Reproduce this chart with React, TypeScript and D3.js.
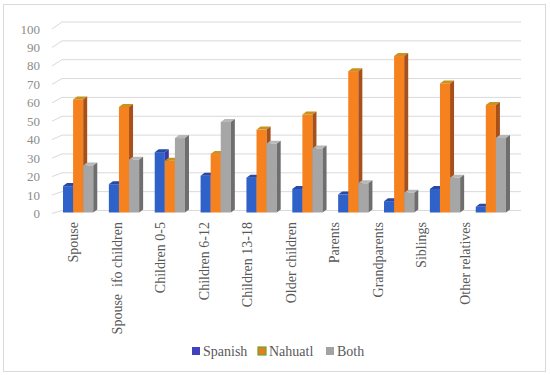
import React from "react";
import * as d3 from "d3";

const categories = [
  "Spouse",
  "Spouse  ifo children",
  "Children 0-5",
  "Children 6-12",
  "Children 13-18",
  "Older children",
  "Parents",
  "Grandparents",
  "Siblings",
  "Other relatives",
];
const seriesNames = ["Spanish", "Nahuatl", "Both"];
const spanish = [14, 15, 32, 19.5, 18.5, 12.5, 9.5, 6, 12.5, 3];
const nahuatl = [60, 56, 27.5, 31, 44, 52, 75, 83, 68.5, 57];
const both = [25, 28, 39.5, 48, 36.5, 34, 15.5, 10.5, 18.5, 39.5];
const yTicks = [0, 10, 20, 30, 40, 50, 60, 70, 80, 90, 100];

const seriesValues = [spanish, nahuatl, both];
const faceColors = [
  { front: "#2F62C8", top: "#2A48A8", side: "#3A3A9E" },
  { front: "#F5821F", top: "#C9931F", side: "#A8501A" },
  { front: "#A6A6A6", top: "#B8B8B8", side: "#6E6E6E" },
];
const legendColors = ["#4042BE", "#E2801E", "#A3A3A3"];

export default function App() {
  const W = 550;
  const H = 375;
  const yBack = d3.scaleLinear().domain([0, 100]).range([210.5, 22]);
  const yFront = d3.scaleLinear().domain([0, 100]).range([213.5, 29]);
  const x0 = d3.scaleBand<string>().domain(categories).range([63, 506]).paddingInner(0.34).paddingOuter(0);
  const x1 = d3.scaleBand<string>().domain(seriesNames).range([0, x0.bandwidth()]).padding(0);
  const xLabel = d3.scaleBand<string>().domain(categories).range([52, 487]);
  const dx = 4;
  const dy = 3;
  const font = "Liberation Serif, Tinos, Times New Roman, DejaVu Serif, serif";

  return (
    <svg width={W} height={H} style={{ position: "absolute", left: 0, top: 0 }} fontFamily={font}>
      <rect x={3.5} y={4.5} width={542} height={367} fill="#fff" stroke="#d9d9d9" />
      {yTicks.map((t) => (
        <g key={t}>
          <line x1={62} x2={521} y1={yBack(t)} y2={yBack(t)} stroke="#d9d9d9" strokeWidth={1} />
          <line x1={52} x2={62} y1={yFront(t)} y2={yBack(t)} stroke="#d9d9d9" strokeWidth={1} />
          <text x={40} y={yFront(t)} textAnchor="end" dominantBaseline="central" fontFamily={font} fontSize={13} fill="#8c8c8c">
            {t}
          </text>
        </g>
      ))}
      {categories.map((c, i) => (
        <g key={c}>
          {seriesNames.map((s, j) => {
            const v = seriesValues[j][i];
            const x = (x0(c) as number) + (x1(s) as number);
            const w = x1.bandwidth();
            const yb = yBack(0) + 2;
            const yt = yBack(v) + 2;
            const col = faceColors[j];
            return (
              <g key={s}>
                <rect x={x} y={yt} width={w} height={Math.max(0, yb - yt)} fill={col.front} />
                <path d={`M${x},${yt} L${x + dx},${yt - dy} L${x + w + dx},${yt - dy} L${x + w},${yt} Z`} fill={col.top} />
                <path d={`M${x + w},${yt} L${x + w + dx},${yt - dy} L${x + w + dx},${yb - dy} L${x + w},${yb} Z`} fill={col.side} />
              </g>
            );
          })}
        </g>
      ))}
      {categories.map((c) => {
        const cx = (xLabel(c) as number) + xLabel.bandwidth() / 2;
        return (
          <text
            key={c}
            transform={`translate(${cx},222) rotate(-90)`}
            textAnchor="end"
            dominantBaseline="central"
            fontFamily={font}
            fontSize={14}
            fill="#595959"
            style={{ whiteSpace: "pre" }}
          >
            {c}
          </text>
        );
      })}
      {seriesNames.map((s, j) => {
        const lx = [192, 258, 326][j];
        return (
          <g key={s}>
            <rect x={lx} y={347} width={8} height={8} fill={legendColors[j]} stroke={j === 1 ? "#6FA032" : "none"} strokeWidth={1.2} />
            <text x={lx + 11} y={351} dominantBaseline="central" fontFamily={font} fontSize={14} fill="#595959">
              {s}
            </text>
          </g>
        );
      })}
    </svg>
  );
}
